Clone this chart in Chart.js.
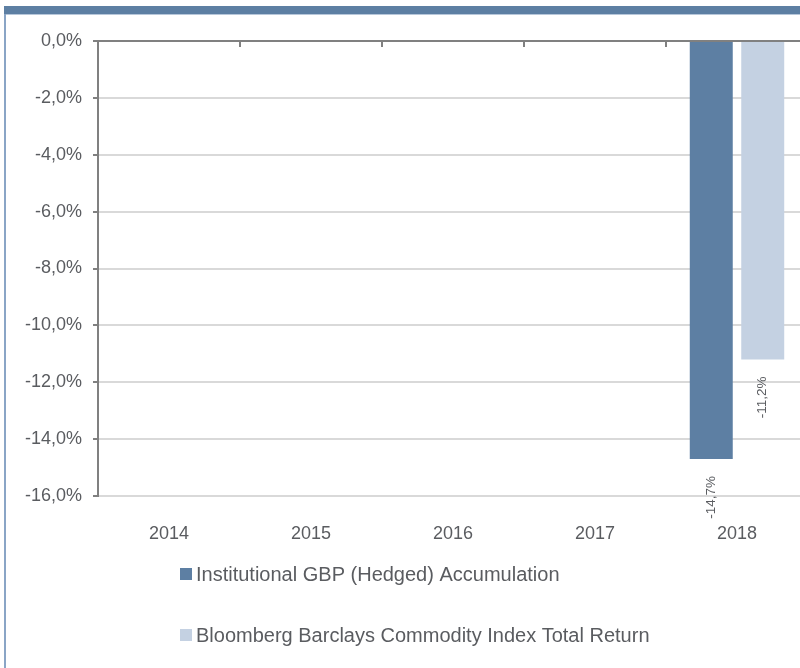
<!DOCTYPE html>
<html>
<head>
<meta charset="utf-8">
<script src="https://cdn.jsdelivr.net/npm/chart.js@4/dist/chart.umd.min.js"></script>
<style>
  html, body { margin: 0; padding: 0; background: #fff; overflow: hidden; }
  #wrap { position: absolute; left: 0; top: 0; width: 812px; height: 668px; }
  #topband { position: absolute; left: 4px; top: 6px; width: 810px; height: 8px; background: #5d7fa3; border-bottom: 1px solid #b7c7da; }
  #leftline { position: absolute; left: 4px; top: 14px; width: 2px; height: 660px; background: #8aa5c6; }
</style>
</head>
<body>
<div id="wrap"><canvas id="chart"></canvas></div>
<div id="topband"></div>
<div id="leftline"></div>
<script>
// chart data
const years = ['2014', '2015', '2016', '2017', '2018'];
const fundReturns = [null, null, null, null, -14.7];
const indexReturns = [null, null, null, null, -11.2];
const seriesNames = [
  'Institutional GBP (Hedged) Accumulation',
  'Bloomberg Barclays Commodity Index Total Return'
];
const yTicks = [0, -2, -4, -6, -8, -10, -12, -14, -16];

const grey = '#5a5c60';
const fmt = (v) => v.toFixed(1).replace('.', ',') + '%';

// rotated value labels under the bar ends
const barLabels = {
  id: 'barLabels',
  afterDatasetsDraw(chart) {
    const ctx = chart.ctx;
    ctx.save();
    ctx.font = '13.5px "Liberation Sans", Arial, sans-serif';
    ctx.fillStyle = grey;
    chart.data.datasets.forEach((ds, i) => {
      chart.getDatasetMeta(i).data.forEach((bar, j) => {
        const v = ds.data[j];
        if (v === null) return;
        ctx.save();
        ctx.translate(bar.x, bar.y + 17);
        ctx.rotate(-Math.PI / 2);
        ctx.textAlign = 'right';
        ctx.textBaseline = 'middle';
        ctx.fillText(fmt(v), 0, 0);
        ctx.restore();
      });
    });
    ctx.restore();
  }
};

// small ticks on the zero line between categories
const zeroTicks = {
  id: 'zeroTicks',
  afterDraw(chart) {
    const ctx = chart.ctx;
    const x = chart.scales.x;
    const y0 = chart.scales.y.getPixelForValue(0);
    ctx.save();
    ctx.strokeStyle = '#808080';
    ctx.lineWidth = 2;
    for (let i = 1; i < years.length; i++) {
      const px = (x.getPixelForValue(i - 1) + x.getPixelForValue(i)) / 2;
      ctx.beginPath();
      ctx.moveTo(px, y0);
      ctx.lineTo(px, y0 + 6);
      ctx.stroke();
    }
    ctx.restore();
  }
};

// vertical legend under the axis
const columnLegend = {
  id: 'columnLegend',
  afterDraw(chart) {
    const ctx = chart.ctx;
    ctx.save();
    ctx.font = '20px "Liberation Sans", Arial, sans-serif';
    ctx.textBaseline = 'middle';
    chart.data.datasets.forEach((ds, i) => {
      const cy = 574 + i * 61;
      ctx.fillStyle = ds.backgroundColor;
      ctx.fillRect(180, cy - 6, 12, 12);
      ctx.fillStyle = grey;
      ctx.fillText(ds.label, 196, cy + 1);
    });
    ctx.restore();
  }
};

new Chart(document.getElementById('chart'), {
  type: 'bar',
  data: {
    labels: years,
    datasets: [
      { label: seriesNames[0], data: fundReturns, backgroundColor: '#5d7fa3' },
      { label: seriesNames[1], data: indexReturns, backgroundColor: '#c4d1e2' }
    ]
  },
  options: {
    responsive: true,
    maintainAspectRatio: false,
    animation: false,
    categoryPercentage: 0.725,
    barPercentage: 0.835,
    layout: { padding: { left: 0, right: 4, top: 41, bottom: 0 } },
    plugins: {
      legend: { display: false },
      tooltip: { enabled: false }
    },
    scales: {
      x: {
        position: 'bottom',
        grid: { display: false, drawTicks: false },
        border: { display: false },
        ticks: {
          color: grey,
          font: { family: '"Liberation Sans", Arial, sans-serif', size: 18 },
          padding: 27
        },
        afterFit(scale) { scale.height = 172; }
      },
      y: {
        min: -16,
        max: 0,
        afterBuildTicks(scale) { scale.ticks = yTicks.map((v) => ({ value: v })); },
        grid: {
          color: (c) => (c.tick && c.tick.value === 0 ? '#808080' : '#d9d9d9'),
          lineWidth: 2,
          tickColor: '#808080',
          tickLength: 5
        },
        border: { color: '#808080', width: 2 },
        ticks: {
          color: grey,
          font: { family: '"Liberation Sans", Arial, sans-serif', size: 18 },
          padding: 11,
          callback: (v) => fmt(v)
        },
        afterFit(scale) { scale.width = 98; }
      }
    }
  },
  plugins: [barLabels, zeroTicks, columnLegend]
});
</script>
</body>
</html>
